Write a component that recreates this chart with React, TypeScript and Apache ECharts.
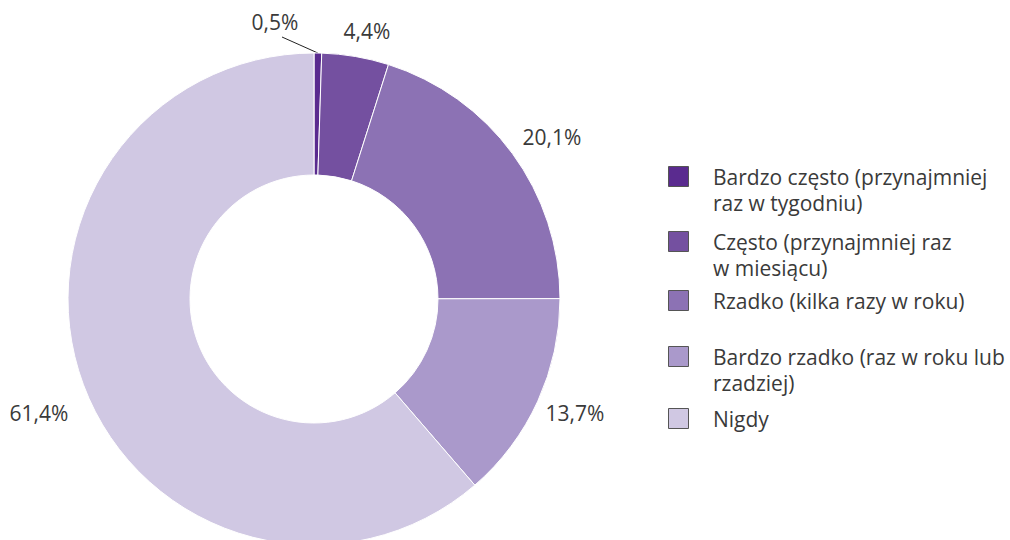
import React, { useEffect, useRef } from "react";
import * as echarts from "echarts";

const categories = [
  "Bardzo często (przynajmniej\nraz w tygodniu)",
  "Często (przynajmniej raz\nw miesiącu)",
  "Rzadko (kilka razy w roku)",
  "Bardzo rzadko (raz w roku lub\nrzadziej)",
  "Nigdy",
];
const values = [0.5, 4.4, 20.1, 13.7, 61.4];
const colors = ["#5a2b8f", "#7450a0", "#8c72b4", "#aa99cb", "#d0c8e3"];

// label placement (centres) and legend row positions — layout constants
const labelPos = [
  [275, 22],
  [367, 31],
  [552, 137],
  [575, 413],
  [39, 413],
];
const legendRowY = [177, 242, 301, 357, 419];

const FONT = "'Open Sans', 'Noto Sans', sans-serif";
const TEXT = "#3a3a3a";
const FS = 21;

export default function App() {
  const ref = useRef<HTMLDivElement>(null);
  useEffect(() => {
    document.body.style.margin = "0";
    const chart = echarts.init(ref.current!, null, { renderer: "svg" });
    const legendGraphics: any[] = [];
    categories.forEach((c, i) => {
      legendGraphics.push({
        type: "rect",
        shape: { x: 668.5, y: legendRowY[i] - 10.5, width: 20, height: 20 },
        style: { fill: colors[i], stroke: "#555", lineWidth: 1 },
      });
      legendGraphics.push({
        type: "text",
        x: 713,
        y: legendRowY[i] - 13,
        style: {
          text: c,
          fill: TEXT,
          font: `${FS}px ${FONT}`,
          lineHeight: 26,
          verticalAlign: "top",
        },
      });
    });
    chart.setOption({
      animation: false,
      backgroundColor: "#fff",
      graphic: legendGraphics,
      series: [
        {
          type: "pie",
          center: [314, 299],
          radius: [124, 246],
          startAngle: 90,
          clockwise: true,
          avoidLabelOverlap: false,
          itemStyle: { borderColor: "#fff", borderWidth: 1 },
          label: {
            show: true,
            position: "outside",
            formatter: (p: any) => p.value.toFixed(1).replace(".", ",") + "%",
            color: TEXT,
            fontFamily: FONT,
            fontSize: FS,
          },
          labelLine: { show: false, lineStyle: { color: "#222", width: 1 } },
          labelLayout: (p: any) => {
            const [x, y] = labelPos[p.dataIndex];
            const out: any = { x, y, align: "center", verticalAlign: "middle" };
            if (p.dataIndex === 0 && p.labelLinePoints) {
              const s = p.labelLinePoints[0];
              const e = [x + 7, y + 15];
              out.labelLinePoints = [s, [(s[0] + e[0]) / 2, (s[1] + e[1]) / 2], e];
            }
            return out;
          },
          emphasis: { disabled: true },
          data: values.map((v, i) => ({
            value: v,
            name: categories[i],
            itemStyle: { color: colors[i] },
            labelLine: i === 0 ? { show: true, length: 10, length2: 5 } : undefined,
          })),
        },
      ],
    });
    return () => chart.dispose();
  }, []);
  return <div ref={ref} style={{ width: 1010, height: 540 }} />;
}
